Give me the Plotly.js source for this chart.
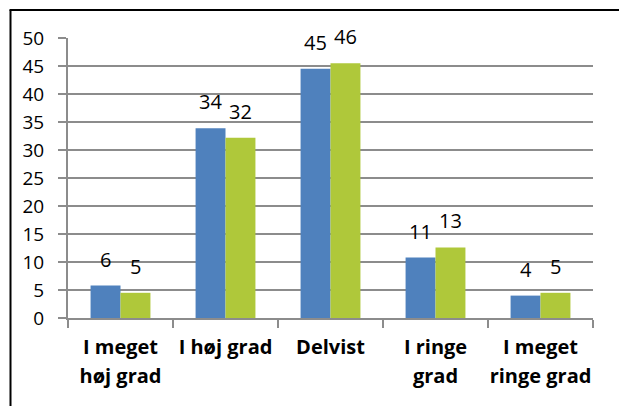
<!DOCTYPE html>
<html>
<head>
<meta charset="utf-8">
<script src="https://cdn.plot.ly/plotly-3.0.1.min.js"></script>
<style>
  html, body { margin: 0; padding: 0; background: #fff; }
  #chart { width: 619px; height: 406px; }
</style>
</head>
<body>
<div id="chart"></div>
<script>
const categories = ["I meget høj grad", "I høj grad", "Delvist", "I ringe grad", "I meget ringe grad"];
const tickLines = [["I meget", "høj grad"], ["I høj grad"], ["Delvist"], ["I ringe", "grad"], ["I meget", "ringe grad"]];
const seriesA = [5.8, 33.9, 44.5, 10.8, 4.0];
const seriesB = [4.5, 32.2, 45.5, 12.6, 4.5];
const labelsA = ["6", "34", "45", "11", "4"];
const labelsB = ["5", "32", "46", "13", "5"];
const yTicks = [0, 5, 10, 15, 20, 25, 30, 35, 40, 45, 50];

const blue = "#4F81BD";
const green = "#AFC83A";
const gridGray = "#8C8C8C";
const numFont = "Open Sans, Lato, sans-serif";

const ticktext = tickLines.map(lines =>
  lines.map(l => '<span style="font-size:20px">' + l + '</span>').join('<br>'));

const traces = [
  { type: "bar", x: categories, y: seriesA, marker: { color: blue }, hoverinfo: "none" },
  { type: "bar", x: categories, y: seriesB, marker: { color: green }, hoverinfo: "none" }
];

const annotations = [];
categories.forEach((c, i) => {
  annotations.push({ x: c, y: seriesA[i], text: labelsA[i], xref: "x", yref: "y",
    showarrow: false, xshift: -15, yshift: 11, yanchor: "bottom",
    font: { family: numFont, size: 20, color: "#000" } });
  annotations.push({ x: c, y: seriesB[i], text: labelsB[i], xref: "x", yref: "y",
    showarrow: false, xshift: 15, yshift: 11, yanchor: "bottom",
    font: { family: numFont, size: 20, color: "#000" } });
});

const L = 68, R = 593, T = 38, B = 318;
const pw = R - L, ph = B - T;
const px = v => (v - L) / pw;
const py = v => (B - v) / ph;

const layout = {
  width: 619, height: 406,
  margin: { l: L, r: 619 - R, t: T, b: 406 - B, pad: 0 },
  paper_bgcolor: "#fff", plot_bgcolor: "#fff",
  showlegend: false,
  barmode: "group",
  bargap: 0.43, bargroupgap: 0,
  xaxis: {
    type: "category",
    tickmode: "array", tickvals: categories, ticktext: ticktext,
    tickson: "boundaries",
    ticks: "outside", ticklen: 8, tickcolor: gridGray, tickwidth: 2,
    showline: true, linecolor: gridGray, linewidth: 2,
    showgrid: false, zeroline: false,
    tickfont: { family: "Open Sans, Lato, sans-serif", size: 22, color: "#000", weight: "bold" },
    tickangle: 0,
    ticklabelstandoff: 8
  },
  yaxis: {
    range: [0, 50], tickmode: "array", tickvals: yTicks, ticktext: yTicks.map(String),
    ticks: "outside", ticklen: 8, tickcolor: gridGray, tickwidth: 2,
    showline: true, linecolor: gridGray, linewidth: 2,
    showgrid: true, gridcolor: gridGray, gridwidth: 2,
    zeroline: false,
    tickfont: { family: numFont, size: 19, color: "#000" },
    ticklabelstandoff: 10
  },
  annotations: annotations,
  shapes: [
    { type: "line", xref: "paper", yref: "paper", layer: "above",
      x0: px(10.5), x1: px(10.5), y0: py(406), y1: py(10),
      line: { color: "#000", width: 2 } },
    { type: "line", xref: "paper", yref: "paper", layer: "above",
      x0: px(9.5), x1: px(619), y0: py(10), y1: py(10),
      line: { color: "#000", width: 2 } }
  ]
};

Plotly.newPlot("chart", traces, layout, { staticPlot: true, displayModeBar: false });
</script>
</body>
</html>
